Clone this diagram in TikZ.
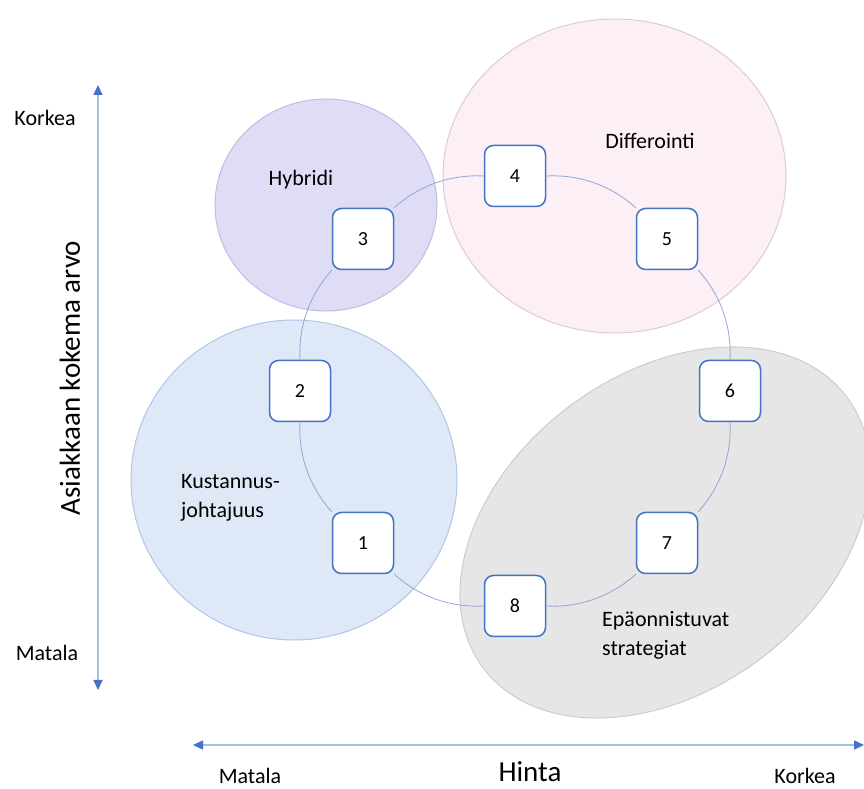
\documentclass[tikz,border=0pt]{standalone}
\usepackage{fontspec}
\setmainfont{Carlito}
\usetikzlibrary{arrows.meta}
\definecolor{boxblue}{HTML}{4472C4}
\definecolor{ringblue}{HTML}{8FA7D8}
\definecolor{axisblue}{HTML}{A9BDE4}
\definecolor{hybfill}{HTML}{DFDCF6}
\definecolor{hybline}{HTML}{C0BCE8}
\definecolor{difffill}{HTML}{FCEFF6}
\definecolor{diffline}{HTML}{E0C8D5}
\definecolor{kustfill}{HTML}{DEE8F7}
\definecolor{kustline}{HTML}{B0C5E9}
\definecolor{epafill}{HTML}{E6E6E6}
\definecolor{epaline}{HTML}{CCCCCC}
\begin{document}
\begin{tikzpicture}[x=1pt,y=1pt,
  numbox/.style={draw=boxblue, line width=1.5pt, fill=white, rounded corners=9pt,
    minimum width=61pt, minimum height=61pt, inner sep=0pt, font=\fontsize{20}{23}\selectfont},
  ring/.style={draw=ringblue, line width=0.8pt, bend left=22.5, looseness=0.9},
  lbl/.style={font=\fontsize{22}{29}\selectfont, inner sep=0pt},
  biglbl/.style={font=\fontsize{29}{34}\selectfont, inner sep=0pt},
  axisline/.style={draw=axisblue, line width=1.5pt,
    {Triangle[length=10pt,width=9pt,color=boxblue]}-{Triangle[length=10pt,width=9pt,color=boxblue]}},
  region/.style={line width=1pt}
]
\useasboundingbox (0,0) rectangle (864,789);

% strategy regions
\draw[region, fill=hybfill, draw=hybline] (326,584) ellipse [x radius=111, y radius=106];
\draw[region, fill=difffill, draw=diffline] (614.5,613) ellipse [x radius=171.5, y radius=157];
\draw[region, fill=kustfill, draw=kustline] (294,309) ellipse [x radius=163, y radius=160];
\draw[region, fill=epafill, draw=epaline, shift={(665,256.5)}, rotate=36.6] (0,0) ellipse [x radius=226.7, y radius=158.3];

% region labels
\node[lbl] (hyb) at (301,609) {Hybridi};
\node[lbl] (diff) at (650,648) {Differointi};
\node[lbl, align=left, anchor=west] (kust) at (181,291) {Kustannus-\\johtajuus};
\node[lbl, align=left, anchor=west] (epa) at (602,154) {Epäonnistuvat\\strategiat};

% numbered boxes
\node[numbox] (n1) at (363,246) {1};
\node[numbox] (n2) at (300,398) {2};
\node[numbox] (n3) at (363,550) {3};
\node[numbox] (n4) at (515,613) {4};
\node[numbox] (n5) at (667,550) {5};
\node[numbox] (n6) at (730,398) {6};
\node[numbox] (n7) at (667,246) {7};
\node[numbox] (n8) at (515,183) {8};

% ring connectors
\draw[ring] (n1) to (n2);
\draw[ring] (n2) to (n3);
\draw[ring] (n3) to (n4);
\draw[ring] (n4) to (n5);
\draw[ring] (n5) to (n6);
\draw[ring] (n6) to (n7);
\draw[ring] (n7) to (n8);
\draw[ring] (n8) to (n1);

% axes
\coordinate (vtop) at (98,704);
\coordinate (vbot) at (98,99);
\coordinate (hleft) at (193,44);
\coordinate (hright) at (864,44);
\draw[axisline] (vbot) -- (vtop);
\draw[axisline] (hleft) -- (hright);

% axis labels
\node[lbl] (vhigh) at (45,671) {Korkea};
\node[lbl] (vlow) at (47,136) {Matala};
\node[biglbl, rotate=90] (vtitle) at (70,411) {Asiakkaan kokema arvo};
\node[lbl] (hlow) at (250,13) {Matala};
\node[biglbl] (htitle) at (530,17) {Hinta};
\node[lbl] (hhigh) at (805,13) {Korkea};
\end{tikzpicture}
\end{document}
